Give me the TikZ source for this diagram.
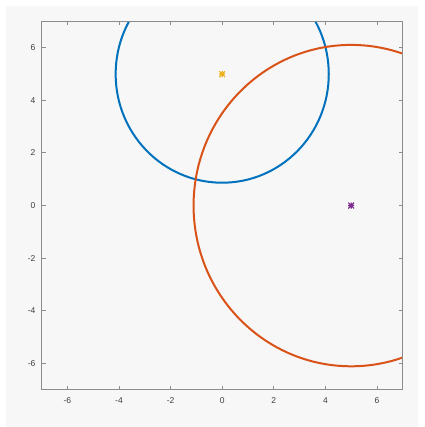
\documentclass[tikz,border=0pt]{standalone}
\usepackage{fontspec}
\setmainfont{Liberation Sans}
\definecolor{figbg}{HTML}{F7F7F7}
\definecolor{axgray}{HTML}{8C8C8C}
\definecolor{lblgray}{HTML}{404040}
\definecolor{mblue}{HTML}{0072BD}
\definecolor{morange}{HTML}{D95319}
\definecolor{myellow}{HTML}{EDB120}
\definecolor{mpurple}{HTML}{7E2F8E}
\tikzset{
  axisline/.style={draw=axgray, line width=1pt},
  tickmark/.style={draw=axgray, line width=1pt},
  ticklbl/.style={font=\fontsize{8.5}{9}\selectfont, text=lblgray, inner sep=0pt},
  curve/.style={line width=2pt},
  starmark/.style={minimum size=6pt, inner sep=0pt, outer sep=0pt,
    path picture={
      \draw[#1, line width=1.2pt]
        (path picture bounding box.north) -- (path picture bounding box.south)
        (path picture bounding box.east) -- (path picture bounding box.west)
        (path picture bounding box.north east) -- (path picture bounding box.south west)
        (path picture bounding box.north west) -- (path picture bounding box.south east);
    }}
}
\begin{document}
\begin{tikzpicture}[x=1pt,y=1pt]
\useasboundingbox (0,0) rectangle (424,-427);
\fill[white] (0,0) rectangle (424,-427);
\fill[figbg] (6,-6) rectangle (418,-427);
\begin{scope}[shift={(222.2,-205.6)}, x=25.8pt, y=26.3pt]
  \coordinate (ll) at (-7,-7);
  \coordinate (ur) at (7,7);
  \begin{scope}
    \clip (-7,-7) rectangle (7,7);
    \draw[curve, mblue] (0,5) circle [radius=4.13];
    \draw[curve, morange] (5,0) circle [radius=6.11];
  \end{scope}
  \node[starmark=myellow] (c1) at (0,5) {};
  \node[starmark=mpurple] (c2) at (5,0) {};
  \foreach \t in {-6,-4,-2,0,2,4,6} {
    \draw[tickmark] (\t,-7) -- ++(0,4pt);
    \draw[tickmark] (\t,7) -- ++(0,-4pt);
    \draw[tickmark] (-7,\t) -- ++(4pt,0);
    \draw[tickmark] (7,\t) -- ++(-4pt,0);
    \node[ticklbl, anchor=north] (xl\t) at ([yshift=-8pt]\t,-7) {\t};
    \node[ticklbl, anchor=east] (yl\t) at ([xshift=-6pt]-7,\t) {\t};
  }
  \draw[axisline] (ll) rectangle (ur);
\end{scope}
\end{tikzpicture}
\end{document}
